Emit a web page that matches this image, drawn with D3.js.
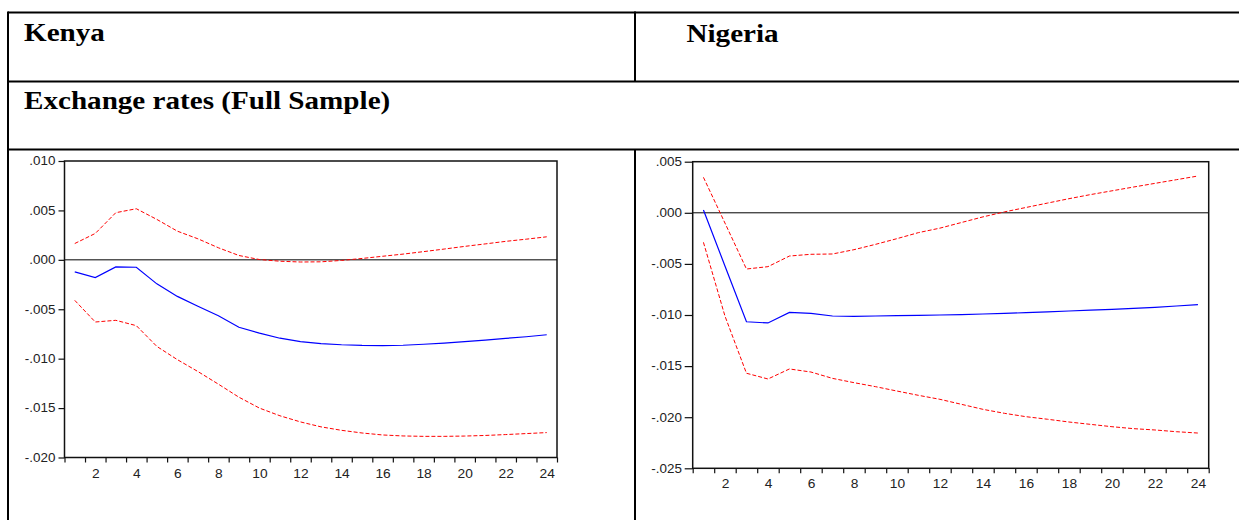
<!DOCTYPE html>
<html>
<head>
<meta charset="utf-8">
<script src="https://cdn.jsdelivr.net/npm/d3@7"></script>
<style>
  html, body { margin: 0; padding: 0; background: #fff; }
  svg { display: block; }
</style>
</head>
<body>
<svg id="chart" width="1239" height="520"></svg>
<script>
// ---------------- DATA ----------------
const periods = d3.range(1, 25);
const xTickLabels = [2, 4, 6, 8, 10, 12, 14, 16, 18, 20, 22, 24];

const kenyaTicks = [0.010, 0.005, 0.000, -0.005, -0.010, -0.015, -0.020];
const kenyaResponse = [-0.00122, -0.0018, -0.00071, -0.00075, -0.00243, -0.0037, -0.0047, -0.00565,
  -0.00682, -0.00742, -0.00793, -0.00827, -0.00847, -0.00859, -0.00866, -0.00868,
  -0.00864, -0.00854, -0.00842, -0.00828, -0.00813, -0.00795, -0.00778, -0.00758];
const kenyaUpper = [0.00165, 0.00267, 0.00477, 0.00517, 0.00409, 0.0029, 0.00213, 0.00122,
  0.00044, 0.00003, -0.00014, -0.00022, -0.0002, -0.00006, 0.00014, 0.00036,
  0.00058, 0.00083, 0.00109, 0.00136, 0.00161, 0.00187, 0.00209, 0.00233];
const kenyaLower = [-0.0041, -0.00629, -0.00612, -0.00666, -0.00876, -0.0101, -0.0113, -0.01258,
  -0.0139, -0.0150, -0.01578, -0.01640, -0.01690, -0.01725, -0.01752, -0.01772,
  -0.01782, -0.01786, -0.01786, -0.01783, -0.01777, -0.01768, -0.01758, -0.01748];

const nigeriaTicks = [0.005, 0.000, -0.005, -0.010, -0.015, -0.020, -0.025];
const nigeriaResponse = [0.00027, -0.0052, -0.01066, -0.01078, -0.00974, -0.00984, -0.0101, -0.01013,
  -0.0101, -0.01007, -0.01004, -0.0100, -0.00997, -0.0099, -0.00984, -0.00977,
  -0.00969, -0.00961, -0.00953, -0.00945, -0.00935, -0.00925, -0.00912, -0.00899];
const nigeriaUpper = [0.00347, -0.0010, -0.0055, -0.00527, -0.00423, -0.00406, -0.00403, -0.00361,
  -0.00309, -0.00253, -0.00194, -0.0015, -0.00095, -0.0004, 0.00009, 0.00052,
  0.00095, 0.00138, 0.00178, 0.00215, 0.00252, 0.00288, 0.00324, 0.0036];
const nigeriaLower = [-0.00289, -0.0101, -0.0157, -0.01626, -0.01528, -0.01558, -0.0162, -0.01662,
  -0.01701, -0.01744, -0.01786, -0.01825, -0.01874, -0.01923, -0.01962, -0.01995,
  -0.0202, -0.02047, -0.0207, -0.02093, -0.02112, -0.02125, -0.02142, -0.02155];

const headerLeft = "Kenya";
const headerRight = "Nigeria";
const sectionTitle = "Exchange rates (Full Sample)";

// ---------------- LAYOUT ----------------
const svg = d3.select("#chart");

// table borders
const border = svg.append("g").attr("stroke", "#000").attr("stroke-width", 2).attr("fill", "none");
border.append("line").attr("x1", 8).attr("x2", 1239).attr("y1", 12.5).attr("y2", 12.5);
border.append("line").attr("x1", 8).attr("x2", 1239).attr("y1", 81.5).attr("y2", 81.5);
border.append("line").attr("x1", 8).attr("x2", 1239).attr("y1", 149.5).attr("y2", 149.5);
border.append("line").attr("x1", 8).attr("x2", 8).attr("y1", 11.5).attr("y2", 520);
border.append("line").attr("x1", 635).attr("x2", 635).attr("y1", 11.5).attr("y2", 81.5);
border.append("line").attr("x1", 635).attr("x2", 635).attr("y1", 149.5).attr("y2", 520);

const hdrFont = "'Liberation Serif', 'Times New Roman', serif";
const hdrStretch = 1.165;
function header(txt, x, y) {
  svg.append("text")
    .attr("transform", `translate(${x},${y}) scale(${hdrStretch},1)`)
    .attr("font-family", hdrFont).attr("font-weight", "bold").attr("font-size", 25)
    .attr("fill", "#000")
    .text(txt);
}
header(headerLeft, 24, 40.7);
header(headerRight, 686.5, 41.7);
header(sectionTitle, 24, 109);

const fmt = v => {
  let s = d3.format(".3f")(Math.abs(v) < 1e-12 ? 0 : v);
  return s.replace("\u2212", "-").replace("0.", ".");
};

const tickFont = "'Liberation Sans', Arial, sans-serif";
const tickStretch = 1.12;

function drawPanel(cfg) {
  const { left, right, top, bottom, yDomain, yTicks, resp, up, lo, yTickSize, xPad, yLabelEnd } = cfg;
  const g = svg.append("g");
  const x = d3.scaleLinear().domain([0.5, 24.5]).range([left, right]);
  const y = d3.scaleLinear().domain(yDomain).range([bottom, top]);

  // zero line
  g.append("line")
    .attr("x1", left).attr("x2", right)
    .attr("y1", y(0)).attr("y2", y(0))
    .attr("stroke", "#000").attr("stroke-width", 1);

  const line = d3.line().x((d, i) => x(periods[i])).y(d => y(d));

  g.append("path").datum(up).attr("d", line)
    .attr("fill", "none").attr("stroke", "#ff0000").attr("stroke-width", 1)
    .attr("stroke-dasharray", "4,2");
  g.append("path").datum(lo).attr("d", line)
    .attr("fill", "none").attr("stroke", "#ff0000").attr("stroke-width", 1)
    .attr("stroke-dasharray", "4,2");
  g.append("path").datum(resp).attr("d", line)
    .attr("fill", "none").attr("stroke", "#0000ff").attr("stroke-width", 1.2);

  // frame
  g.append("rect")
    .attr("x", left).attr("y", top)
    .attr("width", right - left).attr("height", bottom - top)
    .attr("fill", "none").attr("stroke", "#111").attr("stroke-width", 1.5);

  // y axis
  const yAxis = d3.axisLeft(y).tickValues(yTicks).tickSize(yTickSize).tickPadding(3).tickFormat(fmt);
  const ya = g.append("g").attr("transform", `translate(${left},0)`).call(yAxis);
  ya.select(".domain").remove();
  ya.selectAll("line").attr("stroke", "#111").attr("stroke-width", 1.2);
  ya.selectAll("text")
    .attr("x", null)
    .attr("transform", `translate(${yLabelEnd - left},0) scale(${tickStretch},1)`)
    .attr("font-family", tickFont).attr("font-size", 12).attr("fill", "#222");

  // x axis: boundary ticks
  const xb = d3.axisBottom(x).tickValues(d3.range(0.5, 24.6, 1)).tickSize(5).tickFormat(() => "");
  const xa = g.append("g").attr("transform", `translate(0,${bottom})`).call(xb);
  xa.select(".domain").remove();
  xa.selectAll("line").attr("stroke", "#111").attr("stroke-width", 1.2);

  // x labels
  const xl = d3.axisBottom(x).tickValues(xTickLabels).tickSize(0).tickPadding(xPad).tickFormat(d3.format("d"));
  const xla = g.append("g").attr("transform", `translate(0,${bottom})`).call(xl);
  xla.select(".domain").remove();
  xla.selectAll("text")
    .attr("transform", `scale(${tickStretch},1)`)
    .attr("font-family", tickFont).attr("font-size", 12.3).attr("fill", "#222");
}

drawPanel({
  left: 64.5, right: 557, top: 161, bottom: 457.5,
  yDomain: [-0.020, 0.010], yTicks: kenyaTicks,
  resp: kenyaResponse, up: kenyaUpper, lo: kenyaLower,
  yTickSize: 6, xPad: 11.5, yLabelEnd: 55.5
});

drawPanel({
  left: 692.7, right: 1208.7, top: 161.7, bottom: 468.3,
  yDomain: [-0.025, 0.005], yTicks: nigeriaTicks,
  resp: nigeriaResponse, up: nigeriaUpper, lo: nigeriaLower,
  yTickSize: 8, xPad: 11, yLabelEnd: 682
});
</script>
</body>
</html>
